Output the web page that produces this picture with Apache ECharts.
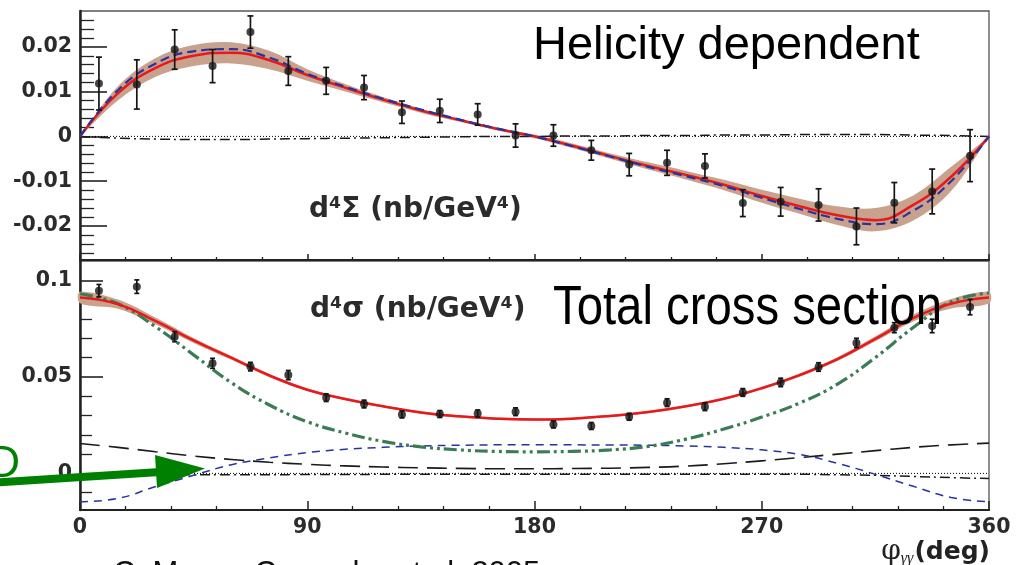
<!DOCTYPE html>
<html>
<head>
<meta charset="utf-8">
<script src="https://cdn.jsdelivr.net/npm/echarts@6/dist/echarts.min.js"></script>
<style>
  html, body { margin: 0; padding: 0; background: #fff; }
  #chart { width: 1017px; height: 565px; }
</style>
</head>
<body>
<div id="chart"></div>
<script>
// Azimuthal bins (deg) of the measured points
const phiBins = [7.5, 22.5, 37.5, 52.5, 67.5, 82.5, 97.5, 112.5, 127.5, 142.5, 157.5, 172.5,
                 187.5, 202.5, 217.5, 232.5, 247.5, 262.5, 277.5, 292.5, 307.5, 322.5, 337.5, 352.5];

// Helicity dependent cross section d4Sigma (nb/GeV4) and its errors
const sigmaDiff = [0.0118, 0.0116, 0.0194, 0.0157, 0.0233, 0.0146, 0.0124, 0.0109, 0.0054, 0.0057, 0.0049, 0.0002,
                   0.0002, -0.0031, -0.0063, -0.0059, -0.0066, -0.0149, -0.0146, -0.0153, -0.0201, -0.0148, -0.0123, -0.0043];
const sigmaDiffErr = [0.0059, 0.0055, 0.0044, 0.0037, 0.0036, 0.0032, 0.0030, 0.0027, 0.0025, 0.0026, 0.0024, 0.0026,
                      0.0024, 0.0022, 0.0025, 0.0028, 0.0027, 0.0030, 0.0032, 0.0036, 0.0041, 0.0045, 0.0050, 0.0058];

// Total cross section d4sigma (nb/GeV4) and its errors
const sigmaTot = [0.0948, 0.0969, 0.0709, 0.0571, 0.0554, 0.0510, 0.0393, 0.0360, 0.0306, 0.0308, 0.0311, 0.0320,
                  0.0254, 0.0246, 0.0294, 0.0367, 0.0346, 0.0420, 0.0472, 0.0552, 0.0677, 0.0756, 0.0765, 0.0863];
const sigmaTotErr = [0.0032, 0.0035, 0.0026, 0.0026, 0.0022, 0.0024, 0.0020, 0.0020, 0.0018, 0.0018, 0.0018, 0.0020,
                     0.0018, 0.0018, 0.0018, 0.0020, 0.0020, 0.0020, 0.0022, 0.0022, 0.0024, 0.0026, 0.0035, 0.0040];

// Curve sampling in phi (deg)
const phiCurve = [0, 15, 30, 45, 60, 75, 90, 105, 120, 135, 150, 165, 180,
                  195, 210, 225, 240, 255, 270, 285, 300, 315, 330, 345, 360];

// Helicity dependent panel: fit, its band, model and small twist-3 term
const diffFit   = [0, 0.0096, 0.0153, 0.0180, 0.0187, 0.0170, 0.0137, 0.0109, 0.0082, 0.0058, 0.0037, 0.0017, 0,
                   -0.0021, -0.0044, -0.0066, -0.0086, -0.0108, -0.0133, -0.0156, -0.0176, -0.0187, -0.0153, -0.0090, 0];
const diffFitHi = [0, 0.0112, 0.0175, 0.0204, 0.0210, 0.0191, 0.0150, 0.0117, 0.0088, 0.0062, 0.0040, 0.0020, 0.0004,
                   -0.0016, -0.0038, -0.0058, -0.0077, -0.0097, -0.0119, -0.0139, -0.0156, -0.0160, -0.0132, -0.0068, 0];
const diffFitLo = [0, 0.0080, 0.0133, 0.0157, 0.0163, 0.0150, 0.0124, 0.0100, 0.0076, 0.0053, 0.0033, 0.0014, -0.0004,
                   -0.0026, -0.0050, -0.0074, -0.0096, -0.0120, -0.0148, -0.0173, -0.0198, -0.0212, -0.0188, -0.0122, 0];
const diffModel = [0, 0.0103, 0.0163, 0.0190, 0.0195, 0.0176, 0.0140, 0.0111, 0.0084, 0.0060, 0.0038, 0.0018, 0,
                   -0.0022, -0.0045, -0.0068, -0.0089, -0.0111, -0.0137, -0.0162, -0.0184, -0.0196, -0.0166, -0.0100, 0];
const diffTwist = [0, -0.0004, -0.0006, -0.0007, -0.0007, -0.0006, -0.0005, -0.0004, -0.0003, -0.0002, -0.0001, 0, 0,
                   0.0001, 0.0001, 0.0002, 0.0002, 0.0003, 0.0003, 0.0004, 0.0004, 0.0004, 0.0003, 0.0002, 0];

// Total cross section panel: fit with band, |BH|^2, interference, |DVCS|^2, twist-3 term
const totFit   = [0.0912, 0.0878, 0.0790, 0.0690, 0.0599, 0.0508, 0.0434, 0.0386, 0.0348, 0.0316, 0.0296, 0.0284, 0.0279,
                  0.0284, 0.0298, 0.0318, 0.0348, 0.0387, 0.0442, 0.0510, 0.0593, 0.0698, 0.0806, 0.0880, 0.0912];
const totFitHi = [0.0942, 0.0902, 0.0808, 0.0703, 0.0609, 0.0516, 0.0441, 0.0392, 0.0354, 0.0322, 0.0302, 0.0290, 0.0285,
                  0.0290, 0.0304, 0.0324, 0.0354, 0.0393, 0.0449, 0.0518, 0.0603, 0.0711, 0.0824, 0.0905, 0.0941];
const totFitLo = [0.0883, 0.0854, 0.0772, 0.0677, 0.0589, 0.0500, 0.0427, 0.0380, 0.0342, 0.0310, 0.0290, 0.0278, 0.0273,
                  0.0278, 0.0292, 0.0312, 0.0342, 0.0381, 0.0435, 0.0502, 0.0583, 0.0685, 0.0788, 0.0855, 0.0881];
const totBH    = [0.0932, 0.0880, 0.0760, 0.0615, 0.0470, 0.0355, 0.0268, 0.0210, 0.0166, 0.0138, 0.0122, 0.0114, 0.0112,
                  0.0114, 0.0122, 0.0140, 0.0178, 0.0230, 0.0292, 0.0365, 0.0463, 0.0601, 0.0757, 0.0890, 0.0936];
const totInterf = [-0.0147, -0.0130, -0.0068, -0.0010, 0.0045, 0.0080, 0.0108, 0.0125, 0.0135, 0.0142, 0.0146, 0.0148, 0.0148,
                   0.0148, 0.0147, 0.0146, 0.0142, 0.0135, 0.0122, 0.0098, 0.0052, -0.0005, -0.0067, -0.0125, -0.0147];
const totDVCS  = [0.0155, 0.0135, 0.0112, 0.0090, 0.0072, 0.0058, 0.0047, 0.0039, 0.0033, 0.0029, 0.0026, 0.0024, 0.0024,
                  0.0025, 0.0027, 0.0031, 0.0038, 0.0050, 0.0065, 0.0082, 0.0100, 0.0118, 0.0135, 0.0148, 0.0157];
const totTwist = [-0.0002, -0.0004, -0.0006, -0.0007, -0.0007, -0.0007, -0.0006, -0.0006, -0.0005, -0.0005, -0.0004, -0.0004, -0.0004,
                  -0.0004, -0.0004, -0.0004, -0.0004, -0.0004, -0.0005, -0.0005, -0.0007, -0.0010, -0.0016, -0.0022, -0.0027];

// Tick values
const xTicks = [0, 90, 180, 270, 360];
const diffTicks = [-0.02, -0.01, 0, 0.01, 0.02];
const diffMinorTicks = [-0.026, -0.024, -0.022, -0.018, -0.016, -0.014, -0.012, -0.008, -0.006, -0.004, -0.002,
                        0.002, 0.004, 0.006, 0.008, 0.012, 0.014, 0.016, 0.018, 0.022, 0.024, 0.026];
const totTicks = [0, 0.05, 0.1];
const totMinorTicks = [-0.01, 0.01, 0.02, 0.03, 0.04, 0.06, 0.07, 0.08, 0.09];

const AXIS_COLOR = '#222';
const RED = '#e8191b';
const BLUE = '#28339f';
const GREEN = '#3a7d55';
const BAND = '#c9a28d';

const pairs = (xs, ys) => xs.map((x, i) => [x, ys[i]]);
const points = (ys, es) => phiBins.map((x, i) => [x, ys[i], es[i]]);

const labelFont = { fontFamily: 'DejaVu Sans', fontWeight: 'bold', fontSize: 20.5, color: '#2b2b2b' };
const fmt = v => (Math.abs(v) < 1e-9 ? '0' : String(parseFloat(v.toFixed(3))));

function yAxes(grid, min, max, majors, minors, majorLen, minorLen) {
  return [
    {
      gridIndex: grid, type: 'value', position: 'left', offset: 0, min, max,
      axisLine: { show: true, onZero: false, lineStyle: { color: AXIS_COLOR, width: 2.5 } },
      axisTick: { show: true, inside: true, length: majorLen, customValues: majors,
                  lineStyle: { color: AXIS_COLOR, width: 1.6 } },
      axisLabel: Object.assign({ show: true, customValues: majors, margin: 8, formatter: fmt }, labelFont),
      splitLine: { show: false }
    },
    {
      gridIndex: grid, type: 'value', position: 'left', offset: 0, min, max,
      axisLine: { show: false, onZero: false },
      axisTick: { show: true, inside: true, length: minorLen, customValues: minors,
                  lineStyle: { color: AXIS_COLOR, width: 1.3 } },
      axisLabel: { show: false },
      splitLine: { show: false }
    }
  ];
}

function xAxis(grid, showLabels, majorLen, minorLen) {
  const ax = {
    gridIndex: grid, type: 'value', min: xTicks[0], max: xTicks[xTicks.length - 1],
    interval: xTicks[1] - xTicks[0],
    axisLine: { show: true, onZero: false, lineStyle: { color: AXIS_COLOR, width: 2.2 } },
    axisTick: { show: true, inside: true, length: majorLen, lineStyle: { color: AXIS_COLOR, width: 1.5 } },
    minorTick: { show: true, splitNumber: 5, length: minorLen, lineStyle: { color: AXIS_COLOR, width: 1.3 } },
    axisLabel: Object.assign({ show: showLabels, margin: 7 }, labelFont),
    splitLine: { show: false }
  };
  if (showLabels) {
    ax.name = '{phi|φ}{sub|γγ}{unit|(deg)}';
    ax.nameLocation = 'end';
    ax.nameGap = 1;
    ax.nameTextStyle = {
      align: 'right', verticalAlign: 'top', padding: [27, 0, 0, 0],
      rich: {
        phi: { fontFamily: 'DejaVu Serif', fontSize: 28, color: '#222', lineHeight: 30 },
        sub: { fontFamily: 'Liberation Serif', fontStyle: 'italic', fontSize: 16, color: '#222',
               verticalAlign: 'bottom', lineHeight: 30, padding: [10, 1, 0, 0] },
        unit: { fontFamily: 'DejaVu Sans', fontWeight: 'bold', fontSize: 25, color: '#222', lineHeight: 30 }
      }
    };
  }
  return ax;
}

function curve(xi, yi, ys, color, width, dash, z) {
  return {
    type: 'line', xAxisIndex: xi, yAxisIndex: yi, data: pairs(phiCurve, ys),
    symbol: 'none', smooth: 0.45, silent: true, z: z,
    lineStyle: { color, width, type: dash }
  };
}

// Error band of a fit: one closed polygon, upper edge forward and lower edge back
function band(xi, yi, hi, lo) {
  return {
    type: 'custom', xAxisIndex: xi, yAxisIndex: yi, silent: true, z: 1,
    data: [[phiCurve[0], hi[0]]],
    encode: { x: 0, y: 1 },
    renderItem(params, api) {
      const upper = phiCurve.map((x, i) => api.coord([x, hi[i]]));
      const lower = phiCurve.map((x, i) => api.coord([x, lo[i]])).reverse();
      return {
        type: 'polygon',
        shape: { points: upper.concat(lower), smooth: 0.35 },
        style: { fill: BAND, stroke: null }
      };
    }
  };
}

function zeroLine(xi, yi) {
  return {
    type: 'line', xAxisIndex: xi, yAxisIndex: yi, data: [[xTicks[0], 0], [xTicks[xTicks.length - 1], 0]],
    symbol: 'none', silent: true, z: 2,
    lineStyle: { color: '#000', width: 1, type: [1, 2] }
  };
}

function errorBars(xi, yi, data, cap) {
  return {
    type: 'custom', xAxisIndex: xi, yAxisIndex: yi, data, silent: true, z: 8,
    encode: { x: 0, y: 1 },
    renderItem(params, api) {
      const x = api.value(0), y = api.value(1), e = api.value(2);
      const lo = api.coord([x, y - e]);
      const hi = api.coord([x, y + e]);
      const style = { stroke: '#151515', lineWidth: 1.7 };
      return {
        type: 'group',
        children: [
          { type: 'line', shape: { x1: lo[0], y1: lo[1], x2: hi[0], y2: hi[1] }, style },
          { type: 'line', shape: { x1: lo[0] - cap, y1: lo[1], x2: lo[0] + cap, y2: lo[1] }, style },
          { type: 'line', shape: { x1: hi[0] - cap, y1: hi[1], x2: hi[0] + cap, y2: hi[1] }, style }
        ]
      };
    }
  };
}

function markers(xi, yi, data) {
  return {
    type: 'scatter', xAxisIndex: xi, yAxisIndex: yi, data: data.map(d => [d[0], d[1]]),
    symbol: 'circle', symbolSize: 8, silent: true, z: 9,
    itemStyle: { color: '#151515' }
  };
}

const chart = echarts.init(document.getElementById('chart'), null, { renderer: 'canvas' });

const option = {
  animation: false,
  backgroundColor: '#fff',
  grid: [
    { left: 80, top: 11, width: 909, height: 249, show: true, borderColor: '#555', borderWidth: 1.3,
      backgroundColor: 'transparent', containLabel: false, outerBoundsMode: 'none' },
    { left: 80, top: 261, width: 909, height: 249, show: true, borderColor: '#555', borderWidth: 1.3,
      backgroundColor: 'transparent', containLabel: false, outerBoundsMode: 'none' }
  ],
  xAxis: [xAxis(0, false, 6, 3), xAxis(1, true, 9, 4)],
  yAxis: [
    ...yAxes(0, -0.0276, 0.028, diffTicks, diffMinorTicks, 27, 14),
    ...yAxes(1, -0.019, 0.1102, totTicks, totMinorTicks, 23, 12)
  ],
  series: [
    // helicity dependent panel
    band(0, 0, diffFitHi, diffFitLo),
    zeroLine(0, 0),
    curve(0, 0, diffTwist, '#1a1a1a', 1.5, [10, 4, 2, 4], 3),
    curve(0, 0, diffFit, RED, 2.5, 'solid', 4),
    curve(0, 0, diffModel, BLUE, 2.2, [9, 5], 5),
    errorBars(0, 0, points(sigmaDiff, sigmaDiffErr), 3),
    markers(0, 0, points(sigmaDiff, sigmaDiffErr)),

    // total cross section panel
    band(1, 2, totFitHi, totFitLo),
    zeroLine(1, 2),
    curve(1, 2, totTwist, '#1a1a1a', 1.5, [10, 4, 2, 4], 3),
    curve(1, 2, totDVCS, '#1a1a1a', 1.6, [20, 9], 3),
    curve(1, 2, totInterf, BLUE, 1.5, [8, 6], 4),
    curve(1, 2, totBH, GREEN, 3.2, [13, 4, 3, 4, 3, 4], 4),
    curve(1, 2, totFit, RED, 2.5, 'solid', 5),
    errorBars(1, 2, points(sigmaTot, sigmaTotErr), 2.5),
    markers(1, 2, points(sigmaTot, sigmaTotErr))
  ],
  graphic: [
    { type: 'text', x: 533, y: 46, z: 20,
      style: { text: 'Helicity dependent', fontFamily: 'Liberation Sans', fontSize: 47,
               fill: '#000', align: 'left', verticalAlign: 'middle' } },
    { type: 'text', x: 553, y: 309, scaleX: 0.86, z: 20,
      style: { text: 'Total cross section', fontFamily: 'Liberation Sans', fontSize: 55,
               fill: '#000', align: 'left', verticalAlign: 'middle' } },
    { type: 'text', x: 309, y: 210, z: 20,
      style: { text: 'd⁴Σ (nb/GeV⁴)', fontFamily: 'DejaVu Sans', fontWeight: 'bold', fontSize: 28,
               fill: '#2b2b2b', align: 'left', verticalAlign: 'middle' } },
    { type: 'text', x: 310, y: 310, z: 20,
      style: { text: 'd⁴σ (nb/GeV⁴)', fontFamily: 'DejaVu Sans', fontWeight: 'bold', fontSize: 28,
               fill: '#2b2b2b', align: 'left', verticalAlign: 'middle' } },
    { type: 'text', x: 113, y: 574, z: 20,
      style: { text: 'C. Munoz Camacho et al. 2005', fontFamily: 'Liberation Sans', fontSize: 31,
               fill: '#111', align: 'left', verticalAlign: 'middle' } },
    { type: 'text', x: 20, y: 465, z: 30,
      style: { text: 'D', fontFamily: 'Liberation Sans', fontSize: 44,
               fill: '#008000', align: 'right', verticalAlign: 'middle' } },
    { type: 'line', z: 30,
      shape: { x1: -4, y1: 482.5, x2: 160, y2: 472 },
      style: { stroke: '#008000', lineWidth: 8 } },
    { type: 'polygon', z: 30,
      shape: { points: [[155, 455], [205, 468.5], [157, 488]] },
      style: { fill: '#008000' } }
  ]
};

chart.setOption(option);
</script>
</body>
</html>
